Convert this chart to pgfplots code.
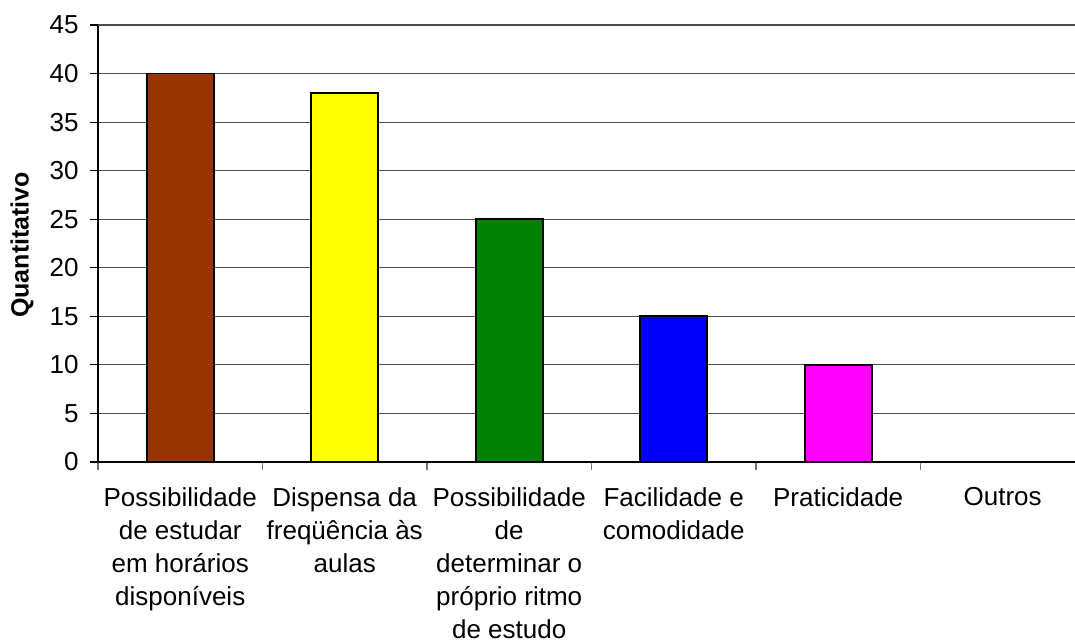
\documentclass[border=0pt]{standalone}
\usepackage{pgfplots}
\pgfplotsset{compat=1.18}
\usepackage{fontspec}
\setmainfont{Liberation Sans}

\definecolor{cBrown}{HTML}{993300}
\definecolor{cYellow}{HTML}{FFFF00}
\definecolor{cGreen}{HTML}{008000}
\definecolor{cBlue}{HTML}{0000FF}
\definecolor{cMagenta}{HTML}{FF00FF}

\begin{document}
\begin{tikzpicture}
% fixed page frame around the axis box
\path[use as bounding box] (-98pt,-181pt) rectangle (977pt,462pt);
\begin{axis}[
  scale only axis,
  width=977pt, height=437pt,
  at={(0,0)}, anchor=south west,
  xmin=-0.5, xmax=5.44,
  ymin=0, ymax=45,
  axis x line=bottom, axis y line=left,
  axis line style={-, line width=1.2pt, black},
  xtick={0,1,2,3,4,5},
  xticklabels={
    {Possibilidade\\de estudar\\em horários\\disponíveis},
    {Dispensa da\\freqüência às\\aulas},
    {Possibilidade\\de\\determinar o\\próprio ritmo\\de estudo},
    {Facilidade e\\comodidade},
    {Praticidade},
    {Outros}},
  major x tick style={draw=none},
  minor xtick={-0.5,0.5,1.5,2.5,3.5,4.5},
  minor x tick style={black!55, line width=1.2pt},
  minor tick length=8pt,
  tick align=outside,
  xticklabel style={align=center, anchor=north, yshift=-14pt,
    font=\fontsize{26}{33}\selectfont},
  ytick={0,5,...,40},
  extra y ticks={45},
  extra y tick style={grid style={black!8, line width=1pt}},
  major tick length=8pt,
  y tick style={black, line width=1.2pt},
  yticklabel style={font=\fontsize{26}{30}\selectfont, xshift=-8pt},
  /pgf/number format/assume math mode=true,
  ymajorgrids,
  major grid style={black!70, line width=1.2pt},
  ylabel={Quantitativo},
  every axis y label/.style={at={(axis description cs:-0.0778,0.497)},
    rotate=90, anchor=center, font=\bfseries\fontsize{25}{30}\selectfont},
  bar width=67pt,
  clip=false,
]
\addplot[ybar, bar shift=0pt, fill=cBrown, draw=black, line width=1.8pt]
  coordinates {(0,40)};
\addplot[ybar, bar shift=0pt, fill=cYellow, draw=black, line width=1.8pt]
  coordinates {(1,38)};
\addplot[ybar, bar shift=0pt, fill=cGreen, draw=black, line width=1.8pt]
  coordinates {(2,25)};
\addplot[ybar, bar shift=0pt, fill=cBlue, draw=black, line width=1.8pt]
  coordinates {(3,15)};
\addplot[ybar, bar shift=0pt, fill=cMagenta, draw=black, line width=1.8pt]
  coordinates {(4,10)};
\addplot[ybar, bar shift=0pt, fill=white, draw=black, line width=1.2pt]
  coordinates {(5,0)};
\end{axis}
\end{tikzpicture}
\end{document}
